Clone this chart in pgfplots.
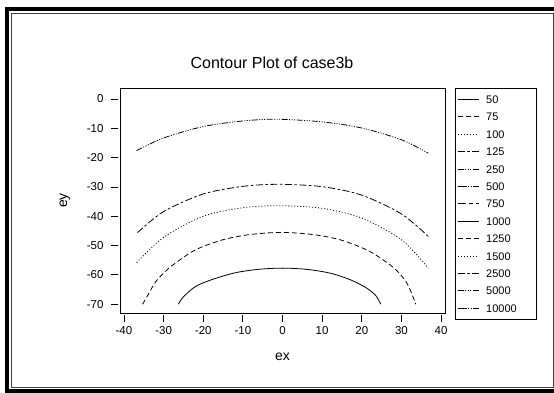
\documentclass[border=0pt]{standalone}
\usepackage{pgfplots}
\pgfplotsset{compat=1.18}
\usepackage{fontspec}
\setmainfont{Liberation Sans}
\tikzset{
 s50/.style={solid},
 s75/.style={dash pattern=on 5pt off 3pt},
 s100/.style={dash pattern=on 1pt off 2pt},
 s125/.style={dash pattern=on 7pt off 2.5pt on 2.5pt off 2.5pt},
 s250/.style={dash pattern=on 6pt off 1.5pt on 1pt off 1.5pt on 1pt off 1.5pt on 1pt off 1.5pt},
 s500/.style={dash pattern=on 9pt off 1.5pt on 1pt off 1.5pt on 1pt off 1.5pt},
 s750/.style={dash pattern=on 8pt off 3pt on 4pt off 3pt},
}
\begin{document}
\begin{tikzpicture}
\path[use as bounding box] (0pt,0pt) rectangle (554pt,393pt);
\fill[black] (5pt,0pt) rectangle (554pt,386pt);
\fill[white] (9pt,4pt) rectangle (554pt,382pt);
\draw[line width=0.8pt, black!75] (11pt,6pt) rectangle (553pt,380pt);
\node[font=\fontsize{16}{18}\selectfont] at (272pt,330pt) {Contour Plot of case3b};
\begin{axis}[
 at={(120pt,80pt)}, anchor=south west, scale only axis,
 width=325pt, height=225pt,
 xmin=-41, xmax=41, ymin=-73, ymax=3.75,
 xtick={-40,-30,...,40}, ytick={0,-10,...,-70},
 tick align=outside, tick pos=left,
 major tick length=7pt,
 every tick/.style={black, line width=0.8pt},
 xtick style={yshift=-2pt},
 ytick style={xshift=-2pt},
 axis line style={line width=0.8pt},
 /pgf/number format/assume math mode=true,
 ticklabel style={font=\fontsize{11.5}{13}\selectfont},
 xticklabel style={yshift=-3pt},
 yticklabel style={xshift=-6pt},
 xlabel={ex}, ylabel={ey},
 label style={font=\fontsize{14}{16}\selectfont},
 xlabel style={at={(axis description cs:0.5,-0.195)}, anchor=center},
 ylabel style={at={(axis description cs:-0.17,0.5)}, anchor=center},
 legend style={at={(axis description cs:1.0308,1)}, anchor=north west,
   draw=black, line width=0.8pt, inner xsep=2pt, inner ysep=7pt,
   row sep=9.4pt, font=\fontsize{11}{13}\selectfont,
   nodes={inner sep=0pt, text height=8pt, text depth=0pt},
   /tikz/every odd column/.append style={column sep=7pt},
   /tikz/every even column/.append style={text width=48pt}},
 legend cell align=left,
 legend image code/.code={\draw[#1, line width=0.8pt] (0pt,0pt) -- (21pt,0pt);},
 every axis plot/.append style={line width=0.8pt, black},
]
% level 250
\addplot[s250, smooth, tension=0.5, forget plot] coordinates {
(-36.8,-17.6) (-30,-13.3) (-20,-9.4) (-10,-7.5) (-1.5,-6.9) (10,-7.8) (20,-9.9) (30,-13.9) (36.8,-18.5)};
% level 125
\addplot[s125, smooth, tension=0.5, forget plot] coordinates {
(-36.6,-45.6) (-30,-38.4) (-20,-32.4) (-10,-29.8) (-1,-29.1) (10,-29.9) (20,-32.8) (30,-39.2) (36.8,-46.9)};
% level 100
\addplot[s100, smooth, tension=0.5, forget plot] coordinates {
(-36.8,-55.8) (-30,-47.2) (-20,-40.0) (-10,-37.1) (-0.5,-36.4) (10,-37.3) (20,-40.6) (30,-48.0) (36.8,-57.7)};
% level 75
\addplot[s75, smooth, tension=0.5, forget plot] coordinates {
(-35.3,-70) (-34,-67) (-31.8,-62) (-28,-57) (-22,-51.5) (-15,-48) (-8,-46.2) (0,-45.5) (8,-46.3) (15,-48.2) (22,-52) (28,-57.5) (31,-62) (32.5,-66) (33.6,-70)};
% level 50
\addplot[s50, smooth, tension=0.5, forget plot] coordinates {
(-26.3,-70) (-25,-67.5) (-22,-64) (-18,-61.7) (-12,-59.3) (-6,-58.1) (0,-57.7) (6,-58.1) (12,-59.4) (17,-61.6) (21,-64.3) (23.5,-67) (24.8,-70)};
\addlegendimage{s50}\addlegendentry{50}
\addlegendimage{s75}\addlegendentry{75}
\addlegendimage{s100}\addlegendentry{100}
\addlegendimage{s125}\addlegendentry{125}
\addlegendimage{s250}\addlegendentry{250}
\addlegendimage{s500}\addlegendentry{500}
\addlegendimage{s750}\addlegendentry{750}
\addlegendimage{s50}\addlegendentry{1000}
\addlegendimage{s75}\addlegendentry{1250}
\addlegendimage{s100}\addlegendentry{1500}
\addlegendimage{s125}\addlegendentry{2500}
\addlegendimage{s250}\addlegendentry{5000}
\addlegendimage{s500}\addlegendentry{10000}
\end{axis}
\end{tikzpicture}
\end{document}
